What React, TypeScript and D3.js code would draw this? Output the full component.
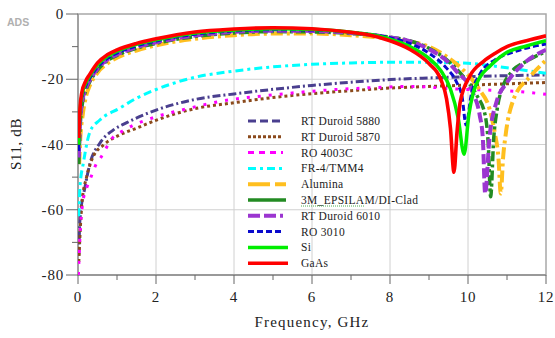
import React from "react";
import * as d3 from "d3";

// frequency (GHz) / S11 (dB) pairs
const gaAs = [[0.02,-38],[0.05,-29],[0.1,-24],[0.2,-20.5],[0.3,-18.5],[0.5,-15],[0.75,-12.5],[1,-11],[1.5,-9],[2,-7.6],[3,-5.5],[4,-4.6],[5,-4.2],[6,-4.5],[7,-5.6],[7.5,-6.5],[8,-8.2],[8.5,-10.8],[9,-15.2],[9.3,-20],[9.45,-26],[9.55,-35],[9.64,-48.5],[9.72,-36],[9.8,-27],[10.05,-19],[10.4,-14.5],[10.7,-12],[11,-10],[11.5,-8.2],[12,-6.7]];
const si = [[0.02,-40],[0.05,-30.5],[0.1,-25],[0.2,-21.2],[0.3,-19],[0.5,-15.5],[0.75,-13],[1,-11.4],[1.5,-9.3],[2,-7.9],[3,-5.8],[4,-4.9],[5,-4.5],[6,-4.7],[7,-5.6],[7.5,-6.3],[8,-7.7],[8.5,-9.9],[9,-13.6],[9.3,-17.3],[9.55,-23],[9.75,-32],[9.9,-43],[10.02,-31],[10.13,-24.3],[10.3,-19.5],[10.56,-16],[10.96,-12],[11.5,-9.8],[12,-8.2]];
const ro3010 = [[0.02,-42],[0.05,-32],[0.1,-26],[0.2,-22],[0.3,-19.8],[0.5,-16.2],[0.75,-13.6],[1,-12],[1.5,-9.8],[2,-8.3],[3,-6.2],[4,-5.2],[5,-4.8],[6,-4.9],[7,-5.6],[8,-7.3],[8.5,-9],[9,-12],[9.45,-16.6],[9.7,-20.7],[9.85,-25.5],[9.95,-34],[10.08,-25],[10.3,-18.5],[10.7,-14],[11.2,-11.5],[12,-9.2]];
const rt6010 = [[0.02,-44],[0.05,-34],[0.1,-27.5],[0.2,-22.8],[0.3,-20.3],[0.5,-16.8],[0.75,-14],[1,-12.4],[1.5,-10.2],[2,-8.7],[3,-6.6],[4,-5.5],[5,-5.1],[6,-5.2],[7,-5.8],[8,-7.2],[8.5,-8.3],[9,-10.8],[9.4,-13.8],[9.7,-17.5],[10.13,-24.3],[10.3,-31],[10.38,-38],[10.44,-55],[10.55,-38],[10.73,-27],[11,-21],[11.4,-15.5],[12,-11]];
const epsilam = [[0.02,-46],[0.05,-35.5],[0.1,-28.5],[0.2,-23.5],[0.3,-20.8],[0.5,-17.2],[0.75,-14.3],[1,-12.7],[1.5,-10.5],[2,-9],[3,-6.9],[4,-5.8],[5,-5.4],[6,-5.5],[7,-6],[8,-7.1],[8.5,-8.2],[9,-10.5],[9.45,-14],[9.88,-19.2],[10.22,-24.8],[10.44,-31],[10.52,-40],[10.58,-56],[10.66,-38],[10.75,-29],[10.9,-22],[11.1,-18],[11.5,-14.5],[12,-11.5]];
const alumina = [[0.03,-46],[0.06,-38],[0.12,-31],[0.2,-25.5],[0.3,-22],[0.5,-18],[0.75,-15.2],[1,-13.4],[1.5,-11.2],[2,-9.6],[3,-7.6],[4,-6.5],[5,-6],[6,-6],[7,-6.5],[8,-7.6],[9,-10],[9.5,-13.5],[9.88,-17.2],[10.3,-23.3],[10.55,-29],[10.69,-36.6],[10.78,-44],[10.84,-55],[10.9,-44],[10.97,-36.6],[11.16,-26.4],[11.59,-19.2],[12,-14.2]];
const fr4 = [[0.02,-62],[0.05,-53],[0.14,-45.5],[0.31,-36],[0.56,-32.5],[1.08,-28.8],[1.5,-25.8],[1.97,-23.3],[3,-19.4],[4,-17.5],[5,-16.2],[6,-15.4],[7,-15],[8,-14.8],[9,-14.8],[10,-15.1],[11,-16.5],[12,-18.2]];
const rt5880 = [[0.02,-74],[0.05,-63],[0.18,-53],[0.31,-45.7],[0.56,-39.6],[0.9,-35.6],[1.25,-33.3],[1.97,-29.6],[3,-26.2],[4,-24.5],[5,-23.1],[6,-21.9],[7,-20.9],[8,-20.1],[9,-19.6],[10,-19.2],[11,-18.9],[12,-18.7]];
const rt5870 = [[0.02,-76],[0.05,-68],[0.1,-58],[0.22,-50],[0.39,-43.7],[0.65,-40.2],[1.08,-37],[1.5,-35],[1.97,-32.7],[3,-29],[4,-27.2],[5,-25.6],[6,-24.4],[7,-23.5],[8,-22.7],[9,-22.2],[10,-21.8],[11,-21.4],[12,-21]];
const ro4003c = [[0.01,-80],[0.05,-68],[0.12,-58],[0.22,-53.4],[0.31,-50.7],[0.48,-45.7],[0.6,-43.7],[0.85,-38.5],[1.2,-35.5],[2,-31.5],[2.74,-29.2],[3.73,-26.6],[5,-24.8],[6.3,-23.4],[7.5,-22.6],[8.6,-22.2],[9.7,-23],[10.5,-23.3],[11.3,-23.8],[12,-24.6]];

const xTicks = [0, 2, 4, 6, 8, 10, 12];
const yTicks = [0, -20, -40, -60, -80];

// drawing order (bottom first) and styling
const series = [
  { name: "RT Duroid 5880", data: rt5880, color: "#4a3f8f", width: 3, dash: "8 3 2 3", legendDash: "8 4", legendLen: 35 },
  { name: "RT Duroid 5870", data: rt5870, color: "#8b4a1c", width: 3, dash: "3 3", legendDash: "3 2", legendLen: 35 },
  { name: "RO 4003C", data: ro4003c, color: "#ff00ff", width: 3, dash: "3 8", legendDash: "6 5", legendLen: 35 },
  { name: "FR-4/TMM4", data: fr4, color: "#00ffff", width: 3, dash: "8 4 3 4", legendDash: "8 4 3 4", legendLen: 35 },
  { name: "Alumina", data: alumina, color: "#ffbf1f", width: 4, dash: "12 4 3 4", legendDash: "22 5", legendLen: 38 },
  { name: "3M_EPSILAM/DI-Clad", data: epsilam, color: "#238b23", width: 3.5, dash: "10 3 3 3", legendDash: null, legendLen: 38 },
  { name: "RT Duroid 6010", data: rt6010, color: "#9b35d0", width: 4, dash: "10 4", legendDash: "12 4", legendLen: 35 },
  { name: "RO 3010", data: ro3010, color: "#0a0acd", width: 3, dash: "6 3", legendDash: "6 3", legendLen: 35 },
  { name: "Si", data: si, color: "#00ee00", width: 3.5, dash: null, legendDash: null, legendLen: 40 },
  { name: "GaAs", data: gaAs, color: "#ff0000", width: 3.6, dash: null, legendDash: null, legendLen: 40 },
];

const W = 555;
const H = 338;
const M = { left: 78, top: 14, right: 9, bottom: 63 };

export default function App() {
  const x = d3.scaleLinear().domain([0, 12]).range([M.left, W - M.right]);
  const y = d3.scaleLinear().domain([0, -80]).range([M.top, H - M.bottom]);
  const line = d3
    .line<number[]>()
    .x((d) => x(d[0]))
    .y((d) => y(d[1]))
    .curve(d3.curveMonotoneX);

  const minorX = d3.range(1, 12, 2);
  const minorY = d3.range(-10, -80, -20);
  const serif = "'Liberation Serif', 'Times New Roman', serif";
  const x0 = M.left, x1 = W - M.right, y0 = M.top, y1 = H - M.bottom;

  return (
    <svg width={W} height={H} style={{ position: "fixed", left: 0, top: 0, background: "#fff" }}>
      <defs>
        <clipPath id="plot">
          <rect x={x0} y={y0} width={x1 - x0} height={y1 - y0} />
        </clipPath>
      </defs>
      <text x={7} y={26} fontFamily="'Liberation Sans', Arial, sans-serif" fontWeight="bold" fontSize={10.5} fill="#b0b0b0">ADS</text>

      {/* grid */}
      {xTicks.slice(1, -1).map((t) => (
        <line key={"gx" + t} x1={x(t)} x2={x(t)} y1={y0} y2={y1} stroke="#d0d0d0" strokeWidth={1} />
      ))}
      {yTicks.slice(1, -1).map((t) => (
        <line key={"gy" + t} x1={x0} x2={x1} y1={y(t)} y2={y(t)} stroke="#d0d0d0" strokeWidth={1} />
      ))}

      {/* frame */}
      <rect x={x0} y={y0} width={x1 - x0} height={y1 - y0} fill="none" stroke="#a8a8a8" strokeWidth={1.5} />
      <line x1={x0} x2={x1} y1={y1} y2={y1} stroke="#999" strokeWidth={2} />
      <line x1={x0} x2={x0} y1={y0} y2={y1} stroke="#999" strokeWidth={1.5} />

      {/* ticks */}
      {xTicks.map((t) => (
        <g key={"tx" + t}>
          <line x1={x(t)} x2={x(t)} y1={y1} y2={y1 + 9} stroke="#666" strokeWidth={1} />
          <text x={x(t)} y={302} textAnchor="middle" fontFamily={serif} fontSize={15} letterSpacing={0.8} fill="#222">{t}</text>
        </g>
      ))}
      {minorX.map((t) => (
        <line key={"mx" + t} x1={x(t)} x2={x(t)} y1={y1} y2={y1 + 5} stroke="#666" strokeWidth={1} />
      ))}
      {yTicks.map((t) => (
        <g key={"ty" + t}>
          <line x1={x0 - 12} x2={x0} y1={y(t)} y2={y(t)} stroke="#666" strokeWidth={1} />
          <text x={64} y={y(t) + 5} textAnchor="end" fontFamily={serif} fontSize={15} letterSpacing={0.8} fill="#222">{t}</text>
        </g>
      ))}
      {minorY.map((t) => (
        <line key={"my" + t} x1={x0 - 6} x2={x0} y1={y(t)} y2={y(t)} stroke="#666" strokeWidth={1} />
      ))}

      {/* curves */}
      <g clipPath="url(#plot)">
        {series.map((s) => (
          <path key={s.name} d={line(s.data) || ""} fill="none" stroke={s.color} strokeWidth={s.width}
            strokeDasharray={s.dash || undefined} strokeLinejoin="round" />
        ))}
      </g>

      {/* legend */}
      {series.map((s, i) => {
        const ly = 121 + i * 15.8;
        return (
          <g key={"lg" + s.name}>
            <line x1={248} x2={248 + s.legendLen} y1={ly} y2={ly} stroke={s.color} strokeWidth={s.width}
              strokeDasharray={s.legendDash || undefined} />
            <text x={301} y={ly + 4} fontFamily={serif} fontSize={11.5} letterSpacing={0.3} fill="#222">{s.name}</text>
          </g>
        );
      })}
      <line x1={301} x2={364} y1={121 + 5 * 15.8 + 6} y2={121 + 5 * 15.8 + 6} stroke="#4caf50" strokeWidth={1} strokeDasharray="1 1" />

      {/* axis titles */}
      <text x={312} y={327} textAnchor="middle" fontFamily={serif} fontSize={15} letterSpacing={1.2} fill="#222">Frequency, GHz</text>
      <text transform="translate(21,144) rotate(-90)" textAnchor="middle" fontFamily={serif} fontSize={15} letterSpacing={0.6} fill="#222">S11, dB</text>
    </svg>
  );
}
